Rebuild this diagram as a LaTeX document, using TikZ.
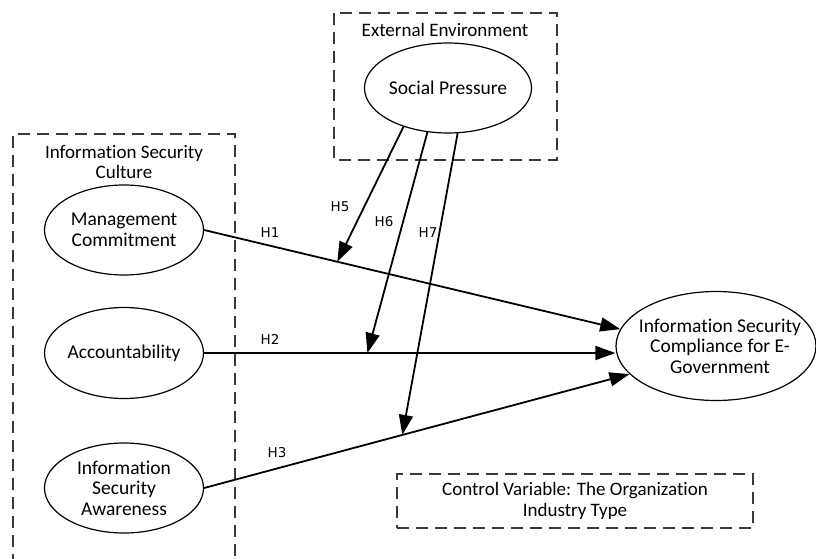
\documentclass[tikz,border=0pt]{standalone}
\usepackage{fontspec}
\setmainfont{Carlito}[Ligatures=NoCommon]
\newfontfamily\hfont{DejaVu Sans}
\usetikzlibrary{shapes.geometric, arrows.meta, calc}
\definecolor{ink}{HTML}{000000}
\definecolor{frameink}{HTML}{3A3A3A}
\tikzset{
  oval/.style     = {draw=ink, ellipse, line width=1.2pt, inner sep=0pt,
                     minimum width=159pt, minimum height=90pt},
  ovaltext/.style = {align=center, text=ink, inner sep=0pt, font=\fontsize{19.5}{20.5}\selectfont},
  frame/.style    = {draw=frameink, line width=1.3pt, dash pattern=on 12pt off 7pt},
  caption/.style  = {align=center, text=ink, inner sep=0pt, font=\fontsize{19}{20.5}\selectfont},
  link/.style     = {-{Triangle[length=20pt, width=14pt]}, draw=ink, line width=1.8pt},
  hlab/.style     = {font=\hfont\fontsize{13.5}{16}\selectfont, text=ink, inner sep=0pt},
}

\begin{document}
\begin{tikzpicture}[x=1pt, y=-1pt]
  \useasboundingbox (0,0) rectangle (816,558);

  \draw[frame] (334,13) rectangle (557,160);
  \draw[frame] (13,566) -- (13,134) -- (235,134) -- (235,566);
  \node[caption] (extlab) at (445,30) {External Environment};
  \node[caption] (isclab) at (124,162) {Information Security\\Culture};
  \node[caption, frame, minimum width=356pt, minimum height=54pt] (ctrl) at (575,501)
    {Control Variable: The Organization\\Industry Type};

  \node[oval, minimum width=167pt, label={[ovaltext]center:Social Pressure}] (sp) at (448,88) {};
  \node[oval, label={[ovaltext]center:{Management\\Commitment}}] (mc) at (124,230) {};
  \node[oval, minimum height=91pt, label={[ovaltext]center:Accountability}] (acc) at (124,353) {};
  \node[oval, label={[ovaltext]center:{Information\\Security\\Awareness}}] (isa) at (124,488) {};
  \node[oval, minimum width=200pt, minimum height=109pt,
        label={[ovaltext, xshift=4pt]center:{Information Security\\Compliance for E-\\Government}}] (comp) at (716,346) {};

  \coordinate (accend) at (acc.east -| comp.west);
  \draw[link] (mc.east) -- (comp.170);
  \draw[link] (acc.east) -- (accend);
  \draw[link] (isa.east) -- (comp.198);

  \coordinate (m5) at ($(mc.east)!0.32!(comp.170)$);
  \coordinate (m6) at ($(acc.east)!0.397!(accend)$);
  \coordinate (m7) at ($(isa.east)!0.466!(comp.198)$);
  \draw[link] (sp.221) -- (m5);
  \draw[link] (sp.245) -- (m6);
  \draw[link] (sp.282) -- (m7);

  \node[hlab] (h1) at (270,233) {H1};
  \node[hlab] (h2) at (270,339) {H2};
  \node[hlab] (h3) at (277,453) {H3};
  \node[hlab] (h5) at (340,207) {H5};
  \node[hlab] (h6) at (384,222) {H6};
  \node[hlab] (h7) at (428,233) {H7};
\end{tikzpicture}
\end{document}
